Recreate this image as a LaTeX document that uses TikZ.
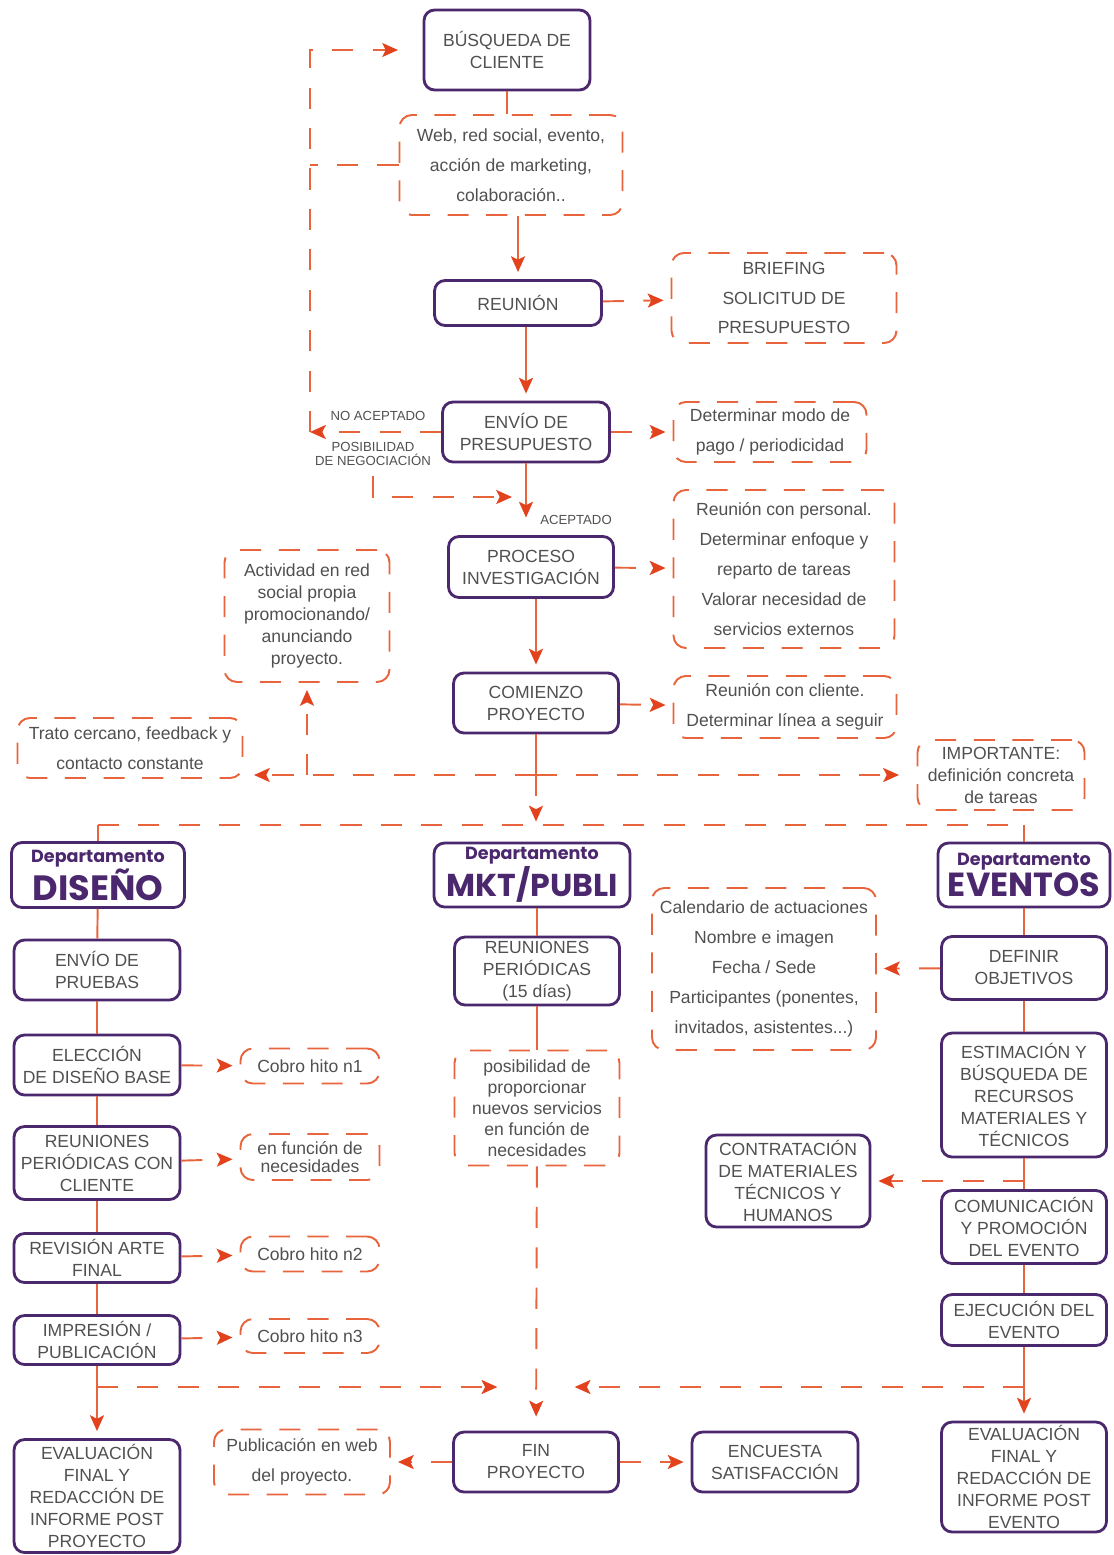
\documentclass[tikz,border=0pt]{standalone}
\usepackage{fontspec}
\setmainfont{Liberation Sans}
\newfontfamily\deptfont{Poppins}
\usetikzlibrary{arrows.meta}
\definecolor{morado}{RGB}{75,40,110}
\definecolor{naranja}{RGB}{232,100,60}
\definecolor{rojo}{RGB}{226,66,28}
\definecolor{gristexto}{RGB}{80,80,80}
\tikzset{
  paso/.style={draw=morado, line width=1.6pt, rounded corners=6pt, text=gristexto, align=center,
    font=\fontsize{10}{12.5}\selectfont, minimum width=3.3cm, minimum height=1.2cm, inner sep=1pt},
  nota/.style={draw=naranja, line width=1.1pt, dash pattern=on 12pt off 10pt, rounded corners=7pt,
    text=gristexto, align=center, font=\fontsize{10}{17}\selectfont, inner sep=1pt},
  depto/.style={paso, text=morado, font=\deptfont\bfseries},
  linea/.style={draw=naranja, line width=1.1pt},
  discont/.style={dash pattern=on 12pt off 11pt},
  flecha/.style={linea, -{Stealth[length=9pt,width=8pt,inset=2pt,color=rojo]}, shorten >=4pt},
  etiq/.style={text=gristexto, font=\fontsize{7.5}{8}\selectfont, align=center, inner sep=0pt}
}
\begin{document}
\begin{tikzpicture}[x=0.02cm, y=-0.02cm]
  \useasboundingbox (0,0) rectangle (1113,1555);
  % Nodes: tramo comun
  \node[paso, minimum width=3.32cm, minimum height=1.6cm] (busq) at (507,50) {BÚSQUEDA DE\\CLIENTE};
  \node[nota, minimum width=4.46cm, minimum height=2cm] (web) at (511,165) {Web, red social, evento,\\acción de marketing,\\colaboración..};
  \node[paso, minimum width=3.34cm, minimum height=0.9cm] (reun) at (518,303) {REUNIÓN};
  \node[nota, minimum width=4.5cm, minimum height=1.8cm] (brief) at (784,298) {BRIEFING\\SOLICITUD DE\\PRESUPUESTO};
  \node[paso, minimum width=3.34cm] (envio) at (526,432) {ENVÍO DE\\PRESUPUESTO};
  \node[nota, minimum width=3.86cm, minimum height=1.2cm] (pago) at (770,432) {Determinar modo de\\pago / periodicidad};
  \node[paso, minimum height=1.22cm] (proc) at (531,567) {PROCESO\\INVESTIGACIÓN};
  \node[nota, minimum width=4.42cm, minimum height=3.16cm] (pers) at (784,569) {Reunión con personal.\\Determinar enfoque y\\reparto de tareas\\Valorar necesidad de\\servicios externos};
  \node[nota, minimum width=3.3cm, minimum height=2.64cm, font=\fontsize{10}{12.5}\selectfont] (activ) at (307,616) {Actividad en red\\social propia\\promocionando/\\anunciando\\proyecto.};
  \node[paso] (comz) at (536,703) {COMIENZO\\PROYECTO};
  \node[nota, minimum width=4.46cm, minimum height=1.24cm] (cli) at (785,707) {Reunión con cliente.\\Determinar línea a seguir};
  \node[nota, minimum width=4.5cm, minimum height=1.2cm] (trato) at (130,748) {Trato cercano, feedback y\\contacto constante};
  \node[nota, minimum width=3.34cm, minimum height=1.4cm, font=\fontsize{10}{12.5}\selectfont] (impt) at (1001,775) {IMPORTANTE:\\definición concreta\\de tareas};
  \node[etiq] (noacep) at (378,416) {NO ACEPTADO};
  \node[etiq] (negoc) at (373,454) {POSIBILIDAD\\DE NEGOCIACIÓN};
  \node[etiq] (acep) at (576,520) {ACEPTADO};
  % Nodes: departamentos
  \node[depto, minimum width=3.46cm, minimum height=1.3cm] (dis) at (98,875) {{\fontsize{10}{10}\selectfont Departamento}\\{\fontsize{20}{20}\selectfont DISEÑO}};
  \node[depto, minimum width=3.92cm, minimum height=1.28cm] (mkt) at (532,875) {{\fontsize{10}{10}\selectfont Departamento}\\{\fontsize{18}{18}\selectfont MKT/PUBLI}};
  \node[depto, minimum width=3.44cm, minimum height=1.28cm] (evt) at (1024,875) {{\fontsize{10}{10}\selectfont Departamento}\\{\fontsize{19}{19}\selectfont EVENTOS}};
  % Nodes: diseno
  \node[paso, minimum width=3.32cm] (prue) at (97,970) {ENVÍO DE\\PRUEBAS};
  \node[paso, minimum width=3.32cm] (elec) at (97,1065) {ELECCIÓN\\DE DISEÑO BASE};
  \node[paso, minimum width=3.32cm, minimum height=1.46cm] (rper) at (97,1163) {REUNIONES\\PERIÓDICAS CON\\CLIENTE};
  \node[paso, minimum width=3.32cm, minimum height=0.98cm] (rev) at (97,1258) {REVISIÓN ARTE\\FINAL};
  \node[paso, minimum width=3.32cm, minimum height=0.98cm] (impr) at (97,1340) {IMPRESIÓN /\\PUBLICACIÓN};
  \node[paso, minimum width=3.32cm, minimum height=2.26cm] (evalp) at (97,1496) {EVALUACIÓN\\FINAL Y\\REDACCIÓN DE\\INFORME POST\\PROYECTO};
  \node[nota, minimum width=2.78cm, minimum height=0.7cm] (cobro1) at (310,1066) {Cobro hito n1};
  \node[nota, minimum width=2.78cm, minimum height=0.92cm, font=\fontsize{10}{10}\selectfont] (func) at (310,1157) {en función de\\necesidades};
  \node[nota, minimum width=2.78cm, minimum height=0.7cm] (cobro2) at (310,1254) {Cobro hito n2};
  \node[nota, minimum width=2.78cm, minimum height=0.68cm] (cobro3) at (310,1336) {Cobro hito n3};
  % Nodes: mkt
  \node[paso, minimum height=1.36cm] (rperm) at (537,971) {REUNIONES\\PERIÓDICAS\\(15 días)};
  \node[nota, minimum width=3.3cm, minimum height=2.3cm, font=\fontsize{10}{12}\selectfont] (posib) at (537,1108) {posibilidad de\\proporcionar\\nuevos servicios\\en función de\\necesidades};
  \node[paso] (fin) at (536,1462) {FIN\\PROYECTO};
  \node[paso, minimum width=3.32cm] (encu) at (775,1462) {ENCUESTA\\SATISFACCIÓN};
  \node[nota, minimum width=3.52cm, minimum height=1.3cm] (publ) at (302,1462) {Publicación en web\\del proyecto.};
  % Nodes: eventos
  \node[paso, minimum height=1.26cm] (defi) at (1024,968) {DEFINIR\\OBJETIVOS};
  \node[nota, minimum width=4.48cm, minimum height=3.24cm] (calen) at (764,969) {Calendario de actuaciones\\Nombre e imagen\\Fecha / Sede\\Participantes (ponentes,\\invitados, asistentes...)};
  \node[paso, minimum height=2.48cm] (estim) at (1024,1095) {ESTIMACIÓN Y\\BÚSQUEDA DE\\RECURSOS\\MATERIALES Y\\TÉCNICOS};
  \node[paso, minimum width=3.28cm, minimum height=1.84cm] (contr) at (788,1181) {CONTRATACIÓN\\DE MATERIALES\\TÉCNICOS Y\\HUMANOS};
  \node[paso, minimum height=1.46cm] (comu) at (1024,1227) {COMUNICACIÓN\\Y PROMOCIÓN\\DEL EVENTO};
  \node[paso, minimum height=1.02cm] (ejec) at (1024,1320) {EJECUCIÓN DEL\\EVENTO};
  \node[paso, minimum height=2.2cm] (evale) at (1024,1477) {EVALUACIÓN\\FINAL Y\\REDACCIÓN DE\\INFORME POST\\EVENTO};
  % Coordenadas de los tramos
  \coordinate (lazo) at (310,432);
  \coordinate (negtop) at (373,476);
  \coordinate (negfin) at (512,497);
  \coordinate (reparto) at (536,775);
  \coordinate (reparto2) at (536,825);
  \coordinate (cierre) at (536,1387);
  % Conectores: tramo comun
  \draw[linea] (busq.south) -- (busq.south |- web.north);
  \draw[flecha] (reun.north |- web.south) -- (reun.north);
  \draw[flecha, discont] (reun) -- (brief);
  \draw[flecha] (envio.north |- reun.south) -- (envio.north);
  \draw[flecha, discont] (envio) -- (pago);
  \draw[flecha, discont, shorten >=0pt] (envio.west) -- (lazo);
  \draw[flecha, discont, shorten >=14pt] (lazo) |- (busq.west);
  \draw[linea, discont] (web.west) -- (web.west -| lazo);
  \draw[flecha, discont, shorten >=0pt] (negtop) |- (negfin);
  \draw[flecha, shorten >=10pt] (envio.south) -- (envio.south |- proc.north);
  \draw[flecha, discont] (proc) -- (pers);
  \draw[flecha] (comz.north |- proc.south) -- (comz.north);
  \draw[flecha, discont] (comz) -- (cli);
  \draw[linea] (comz) -- (reparto);
  \draw[flecha, discont, shorten >=6pt] (reparto) -- (trato.east |- reparto);
  \draw[flecha, discont, shorten >=10pt] (reparto) -- (impt.west);
  \draw[flecha, discont] (activ.south |- reparto) -- (activ.south);
  \draw[flecha, discont, shorten >=2pt] (reparto) -- (reparto2);
  \draw[linea, discont] (dis.north |- reparto2) -- (evt.north |- reparto2);
  \draw[linea] (dis.north |- reparto2) -- (dis.north);
  \draw[linea] (evt.north |- reparto2) -- (evt.north);
  % Conectores: diseno
  \draw[linea] (dis) -- (prue);
  \draw[linea] (prue) -- (elec);
  \draw[linea] (elec) -- (rper);
  \draw[linea] (rper) -- (rev);
  \draw[linea] (rev) -- (impr);
  \draw[flecha, discont] (elec) -- (cobro1);
  \draw[flecha, discont] (rper) -- (func);
  \draw[flecha, discont] (rev) -- (cobro2);
  \draw[flecha, discont] (impr) -- (cobro3);
  \draw[linea] (impr) -- (impr.south |- cierre);
  \draw[flecha, discont, shorten >=22pt] (impr.south |- cierre) -- (cierre);
  \draw[flecha] (impr.south |- cierre) -- (evalp);
  % Conectores: mkt
  \draw[linea] (rperm.north |- mkt.south) -- (rperm.north);
  \draw[linea] (rperm) -- (posib);
  \draw[flecha, discont, shorten >=8pt] (posib) -- (fin);
  \draw[flecha, discont] (fin) -- (publ);
  \draw[flecha, discont] (fin) -- (encu);
  % Conectores: eventos
  \draw[linea] (evt) -- (defi);
  \draw[flecha, discont] (defi) -- (calen);
  \draw[linea] (defi) -- (estim);
  \draw[linea] (estim) -- (comu);
  \draw[flecha, discont] (estim.south |- contr.east) -- (contr.east);
  \draw[linea] (comu) -- (ejec);
  \draw[linea] (ejec) -- (ejec.south |- cierre);
  \draw[flecha, discont, shorten >=22pt] (ejec.south |- cierre) -- (cierre);
  \draw[flecha] (ejec.south |- cierre) -- (evale);
\end{tikzpicture}
\end{document}
